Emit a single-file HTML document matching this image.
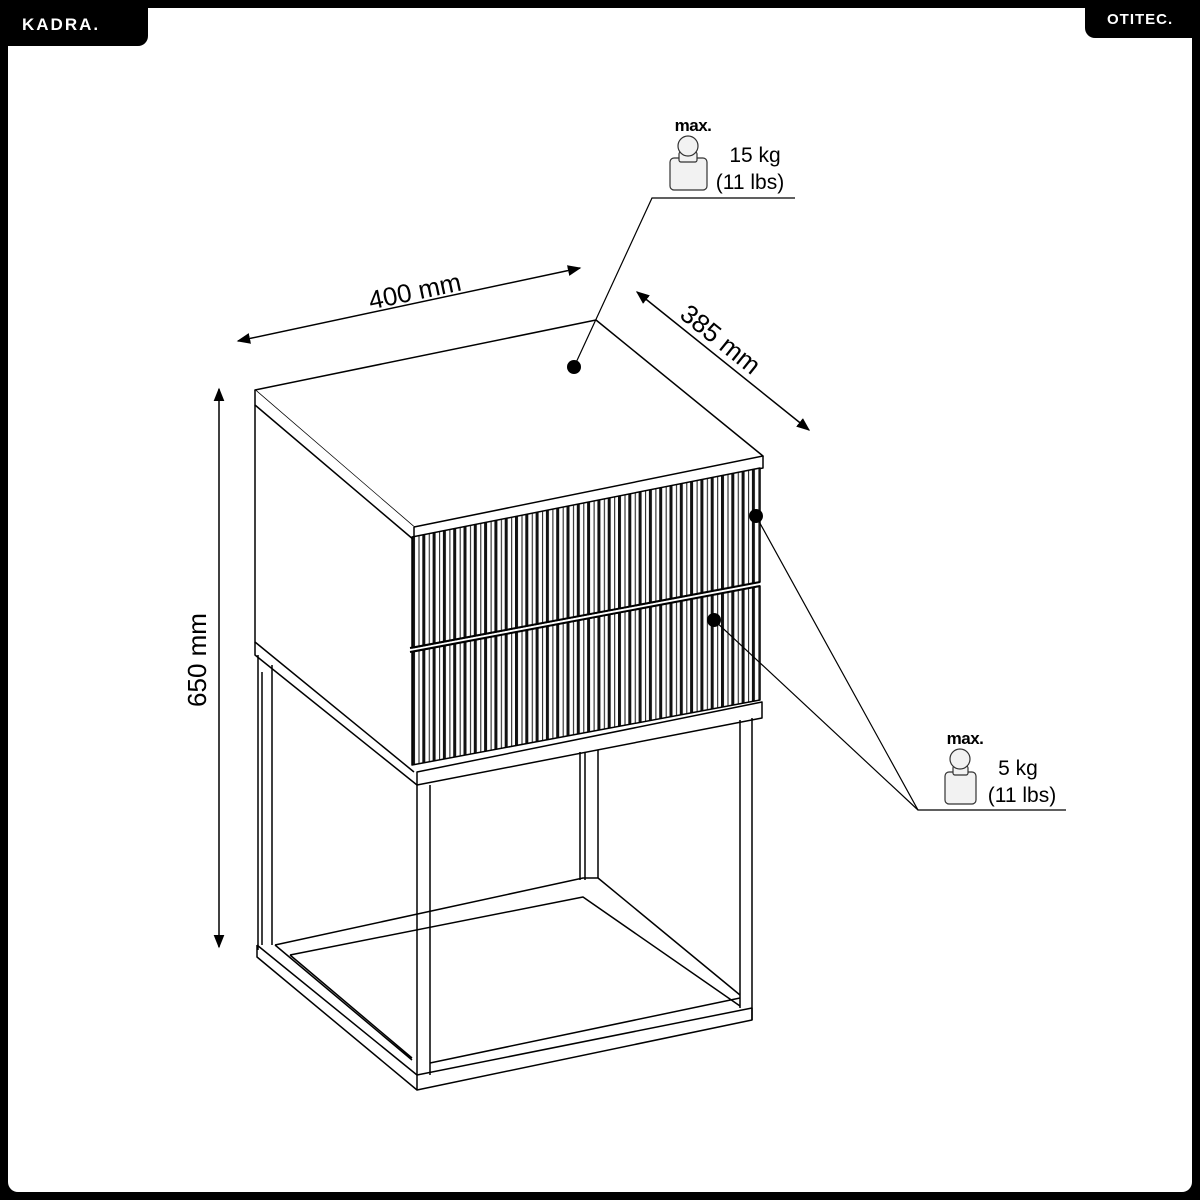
<!DOCTYPE html>
<html><head><meta charset="utf-8"><style>
html,body{margin:0;padding:0;background:#000;width:1200px;height:1200px;overflow:hidden}
#w{position:absolute;left:8px;top:8px;width:1184px;height:1184px;background:#fff;border-radius:10px}
.tab{position:absolute;background:#000;color:#fff;font-family:"Liberation Sans",sans-serif;font-weight:bold;letter-spacing:2px}
svg{position:absolute;left:0;top:0}
</style></head><body>
<div id="w"></div>
<div class="tab" style="left:0;top:0;width:148px;height:46px;border-bottom-right-radius:10px;font-size:17px;line-height:50px;text-indent:22px">KADRA.</div>
<div class="tab" style="left:1085px;top:0;width:115px;height:38px;border-bottom-left-radius:10px;font-size:15px;line-height:40px;text-indent:22px;letter-spacing:1px">OTITEC.</div>
<svg width="1200" height="1200" viewBox="0 0 1200 1200">
<defs>
<pattern id="fl" x="412" y="0" width="10.3" height="20" patternUnits="userSpaceOnUse">
<rect x="0" y="0" width="10.3" height="20" fill="#fff"/>
<rect x="0" y="0" width="3" height="20" fill="#111"/>
<rect x="6.5" y="0" width="1" height="20" fill="#111"/>
</pattern>
<marker id="ar" viewBox="0 0 10 10" refX="9" refY="5" markerWidth="9" markerHeight="9" orient="auto-start-reverse"><path d="M0,1 L10,5 L0,9z" fill="#000"/></marker>
</defs>
<g fill="none" stroke="#000" stroke-width="1.5" stroke-linejoin="round">
<path d="M255,390 L596,320 L763,456 L414,527 Z" fill="#fff"/>
<path d="M255,390 L255,405 L414,540 L414,527" fill="#fff"/>
<path d="M414,540 L763,468 L763,456"/>
<path d="M255,405 L255,642 L414,772" />
<path d="M412,537 L760,468 L760,582 L412,648 Z" fill="url(#fl)"/>
<path d="M412,652 L760,586 L760,700 L412,765 Z" fill="url(#fl)"/>
<path d="M410,648 L760,582 M410,652 L760,586" stroke-width="2"/>
<path d="M417,772 L762,702 L762,718 L417,785 Z" fill="#fff"/>
<path d="M255,642 L255,655 L417,785"/>
<path d="M417,785 L417,1090 M430,785 L430,1075"/>
<path d="M740,720 L740,1008 M752,718 L752,1020"/>
<path d="M258,655 L258,950 M272,665 L272,945 M262,672 L262,945"/>
<path d="M580,752 L580,880 M598,750 L598,878 M585,752 L585,880"/>
<path d="M257,945 L257,957 L417,1090 L752,1020 L752,1008 L417,1075 L257,945"/>
<path d="M275,945 L412,1060 M290,955 L412,1058"/>
<path d="M275,945 L583,878 L598,878 L740,995 M290,955 L583,897 L740,1006"/>
<path d="M430,1063 L740,998"/>
</g>
<g stroke="#000" stroke-width="1.5" fill="none">
<line x1="238" y1="341" x2="580" y2="268" marker-start="url(#ar)" marker-end="url(#ar)"/>
<line x1="637" y1="292" x2="809" y2="430" marker-start="url(#ar)" marker-end="url(#ar)"/>
<line x1="219" y1="389" x2="219" y2="947" marker-start="url(#ar)" marker-end="url(#ar)"/>
<polyline points="574,367 652,198 795,198" stroke-width="1.2"/>
<polyline points="756,516 918,810 1066,810" stroke-width="1.2"/>
<line x1="714" y1="620" x2="918" y2="810" stroke-width="1.2"/>
</g>
<g fill="#000"><circle cx="574" cy="367" r="7"/><circle cx="756" cy="516" r="7"/><circle cx="714" cy="620" r="7"/></g>
<g font-family="Liberation Sans, sans-serif" font-size="26" fill="#000">
<text x="415" y="300" text-anchor="middle" transform="rotate(-12 415 292)">400 mm</text>
<text x="720" y="348" text-anchor="middle" transform="rotate(38.7 720 340)">385 mm</text>
<text x="206" y="660" text-anchor="middle" transform="rotate(-90 206 660)">650 mm</text>
</g>
<g stroke="#333" stroke-width="1.2" fill="#f2f2f2">
<rect x="670" y="158" width="37" height="32" rx="4"/>
<rect x="679" y="152" width="18" height="10" rx="2"/>
<circle cx="688" cy="146" r="10"/>
<rect x="945" y="772" width="31" height="32" rx="4"/>
<rect x="953" y="766" width="15" height="9" rx="2"/>
<circle cx="960" cy="759" r="10"/>
</g>
<g font-family="Liberation Sans, sans-serif" fill="#000">
<text x="693" y="131" font-size="17" font-weight="bold" text-anchor="middle" letter-spacing="-0.5">max.</text>
<text x="755" y="162" font-size="21" text-anchor="middle">15 kg</text>
<text x="750" y="189" font-size="21" text-anchor="middle">(11 lbs)</text>
<text x="965" y="744" font-size="17" font-weight="bold" text-anchor="middle" letter-spacing="-0.5">max.</text>
<text x="1018" y="775" font-size="21" text-anchor="middle">5 kg</text>
<text x="1022" y="802" font-size="21" text-anchor="middle">(11 lbs)</text>
</g>
</svg>
</body></html>
